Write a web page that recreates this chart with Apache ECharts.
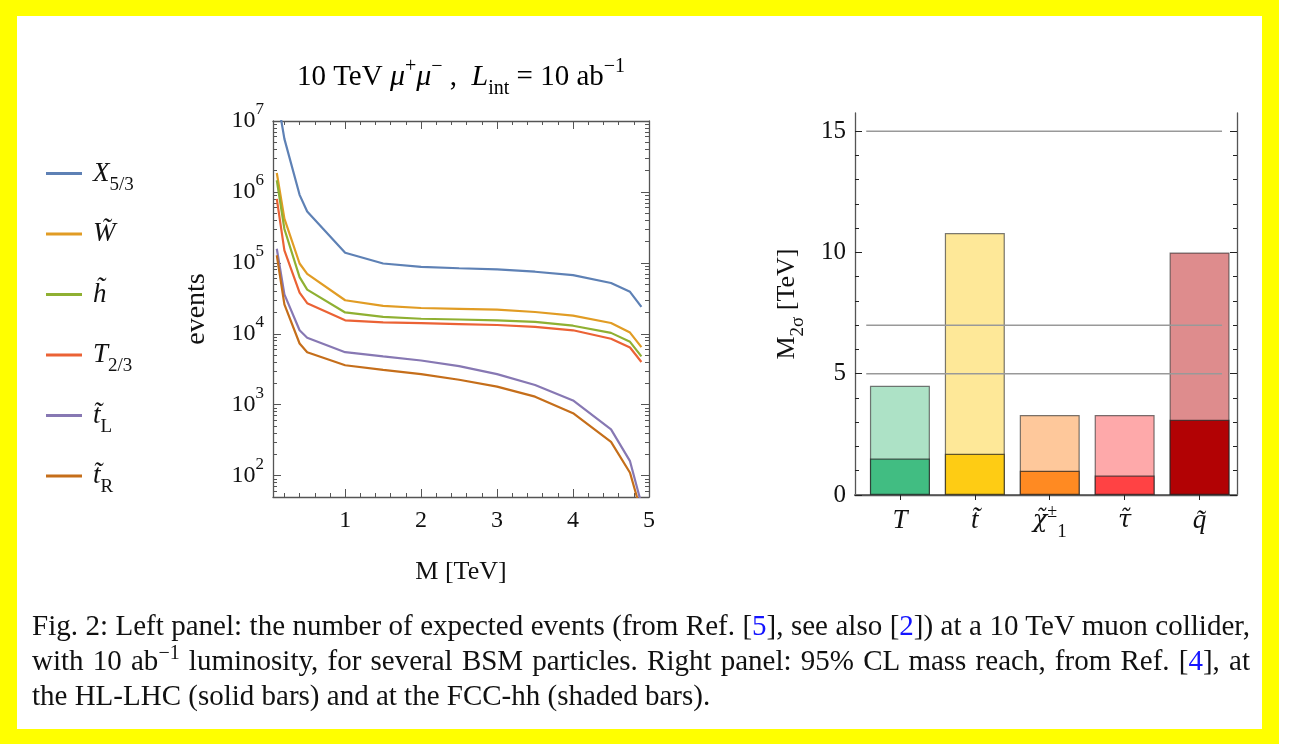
<!DOCTYPE html>
<html>
<head>
<meta charset="utf-8">
<script src="https://cdn.jsdelivr.net/npm/echarts@6/dist/echarts.min.js"></script>
<style>
  html, body { margin: 0; padding: 0; background: #fff; }
  .frame { position: absolute; left: 0; top: 0; width: 1279px; height: 744px; background: #ffff00; }
  .inner { position: absolute; left: 17px; top: 16px; width: 1245px; height: 713px; background: #fff; }
  #main { position: absolute; left: 0; top: 0; width: 1290px; height: 744px; }
  .caption { position: absolute; left: 32px; top: 608px; width: 1218px; font-family: 'Liberation Serif', serif; font-size: 29px; color: #111; }
  .caption div { height: 35px; line-height: 35px; white-space: nowrap; }
  .caption .just { text-align: justify; text-align-last: justify; }
  .caption a { color: #1414ff; text-decoration: none; }
  .caption sup { font-size: 20px; line-height: 0; vertical-align: 11px; }
</style>
</head>
<body>
<div class="frame"></div>
<div class="inner"></div>
<div id="main"></div>
<div class="caption">
  <div class="just">Fig. 2: Left panel: the number of expected events (from Ref. [<a>5</a>], see also [<a>2</a>]) at a 10 TeV muon collider,</div>
  <div class="just">with 10 ab<sup>&minus;1</sup> luminosity, for several BSM particles. Right panel: 95% CL mass reach, from Ref. [<a>4</a>], at</div>
  <div>the HL-LHC (solid bars) and at the FCC-hh (shaded bars).</div>
</div>
<script>
// left panel: expected events vs mass
const massTeV = [0.1, 0.2, 0.4, 0.5, 1, 1.5, 2, 2.5, 3, 3.5, 4, 4.5, 4.75, 4.9];
const eventsX53 = [2.4e7, 5.6e6, 9.1e5, 5.3e5, 1.39e5, 9.8e4, 8.8e4, 8.4e4, 8.1e4, 7.5e4, 6.7e4, 5.2e4, 3.9e4, 2.4e4];
const eventsW = [1.85e6, 4.2e5, 9.8e4, 7.0e4, 2.97e4, 2.47e4, 2.31e4, 2.25e4, 2.19e4, 2.03e4, 1.80e4, 1.42e4, 1.04e4, 6.5e3];
const eventsH = [1.46e6, 3.0e5, 6.3e4, 4.2e4, 2.0e4, 1.73e4, 1.63e4, 1.59e4, 1.55e4, 1.47e4, 1.30e4, 1.03e4, 7.7e3, 4.8e3];
const eventsT23 = [8.0e5, 1.5e5, 3.8e4, 2.7e4, 1.55e4, 1.45e4, 1.41e4, 1.37e4, 1.33e4, 1.25e4, 1.12e4, 8.5e3, 6.4e3, 4.0e3];
const eventsTL = [1.58e5, 3.6e4, 1.12e4, 8.8e3, 5.5e3, 4.8e3, 4.2e3, 3.5e3, 2.7e3, 1.9e3, 1.15e3, 450, 160, 40];
const eventsTR = [1.28e5, 2.6e4, 7.3e3, 5.5e3, 3.6e3, 3.1e3, 2.7e3, 2.25e3, 1.8e3, 1.3e3, 760, 300, 110, 30];
const curveNames = ['X53', 'W', 'h', 'T23', 'tL', 'tR'];
const curveLabels = ['{i|X}{sub|5/3}', '{i|W\u0303}{sub| }', '{i|h\u0303}{sub| }', '{i|T}{sub|2/3}', '{i|t\u0303}{sub|L}', '{i|t\u0303}{sub|R}'];
const curveColors = ['#5E81B5', '#E19C24', '#8FB032', '#EB6235', '#8778B3', '#C56E1A'];
const curveData = [eventsX53, eventsW, eventsH, eventsT23, eventsTL, eventsTR];
const xTicksLeft = [1, 2, 3, 4, 5];
const xMinorLeft = [0.2, 0.4, 0.6, 0.8, 1.2, 1.4, 1.6, 1.8, 2.2, 2.4, 2.6, 2.8, 3.2, 3.4, 3.6, 3.8, 4.2, 4.4, 4.6, 4.8];
const yDecades = [2, 3, 4, 5, 6, 7];

// right panel: 95% CL mass reach
const particles = ['{i|T}', '{i|t\u0303}', '{g|\u03C7\u0303}{sup|\u00B1}{sub|1}', '{g|\u03C4\u0303}', '{i|q\u0303}'];
const particlePos = [1, 2, 3, 4, 5];
const reachHL = [1.5, 1.7, 1.0, 0.8, 3.1];
const reachFCC = [4.5, 10.8, 3.3, 3.3, 10.0];
const colorsHL = ['#41BD82', '#FECC14', '#FF8A22', '#FF4244', '#B20204'];
const colorsFCC = ['#ADE2C6', '#FEE898', '#FEC89B', '#FEA9AA', '#DE8C8D'];
const refLevels = [5, 7, 15];
const refSpan = [0.55, 5.3];
const yTicksRight = [0, 5, 10, 15];
const yMinorRight = [1, 2, 3, 4, 6, 7, 8, 9, 11, 12, 13, 14];

const FONT = 'Liberation Serif';
const AX = '#555';

// minor log ticks 2..9 within each decade (in log10 units)
const yMinorLeft = [];
for (let d = 1; d < 7; d++) {
  for (let k = 2; k <= 9; k++) {
    const lv = Math.log10(k * Math.pow(10, d));
    if (lv >= Math.log10(50)) yMinorLeft.push(lv);
  }
}

const mathRich = {
  r: { fontFamily: FONT, fontSize: 26, color: '#111', lineHeight: 32 },
  i: { fontFamily: FONT, fontSize: 27, fontStyle: 'italic', color: '#111', lineHeight: 32 },
  g: { fontFamily: 'DejaVu Serif', fontSize: 24, fontStyle: 'italic', color: '#111', lineHeight: 32 },
  sub: { fontFamily: FONT, fontSize: 19, color: '#111', lineHeight: 19, verticalAlign: 'bottom', padding: [0, 0, -5, 0] },
  sup: { fontFamily: FONT, fontSize: 18, color: '#111', lineHeight: 18, verticalAlign: 'top', padding: [-2, 0, 0, 0] },
  b: { fontFamily: FONT, fontSize: 24, color: '#111', lineHeight: 26 },
  s: { fontFamily: FONT, fontSize: 17, color: '#111', lineHeight: 17, verticalAlign: 'top', padding: [-7, 0, 0, 0] }
};

const titleRich = {
  r: { fontFamily: FONT, fontSize: 29, color: '#111', lineHeight: 34 },
  i: { fontFamily: FONT, fontSize: 30, fontStyle: 'italic', color: '#111', lineHeight: 34 },
  sub: { fontFamily: FONT, fontSize: 20, color: '#111', lineHeight: 20, verticalAlign: 'bottom', padding: [0, 0, -5, 0] },
  sup: { fontFamily: FONT, fontSize: 20, color: '#111', lineHeight: 20, verticalAlign: 'top', padding: [-3, 0, 0, 0] }
};

function tickAxis(extra) {
  return Object.assign({
    splitLine: { show: false },
    axisLine: { show: false },
    axisLabel: { show: false },
    axisTick: { show: false }
  }, extra);
}

const logMin = Math.log10(50);

const option = {
  animation: false,
  backgroundColor: 'transparent',
  textStyle: { fontFamily: FONT },
  grid: [
    { left: 273, top: 121, width: 376, height: 376, outerBoundsMode: 'none' },
    { left: 855, top: 113, width: 382, height: 382, outerBoundsMode: 'none' }
  ],
  graphic: [{
    type: 'text',
    x: 461,
    y: 77,
    style: {
      text: '{r|10 TeV }{i|\u03BC}{sup|+}{i|\u03BC}{sup|\u2212}{r| ,  }{i|L}{sub|int}{r| = 10 ab}{sup|\u22121}',
      align: 'center',
      verticalAlign: 'middle',
      rich: titleRich
    }
  }],
  legend: {
    orient: 'vertical',
    left: 41,
    top: 155,
    itemGap: 26,
    itemWidth: 36,
    itemHeight: 3,
    icon: 'rect',
    data: curveNames,
    formatter: function (name) { return curveLabels[curveNames.indexOf(name)]; },
    textStyle: { rich: mathRich, padding: [0, 0, 0, 6] }
  },
  xAxis: [
    tickAxis({
      type: 'value', gridIndex: 0, min: 0.05, max: 5, position: 'bottom',
      axisLine: { show: true, lineStyle: { color: AX, width: 1.3 } },
      axisTick: { show: true, inside: true, length: 8, customValues: xTicksLeft, lineStyle: { color: AX } },
      axisLabel: { show: true, customValues: xTicksLeft, margin: 12, fontFamily: FONT, fontSize: 24, color: '#111' },
      name: 'M [TeV]', nameLocation: 'middle', nameGap: 62,
      nameTextStyle: { fontFamily: FONT, fontSize: 26, color: '#111' }
    }),
    tickAxis({
      type: 'value', gridIndex: 0, min: 0.05, max: 5, position: 'bottom',
      axisTick: { show: true, inside: true, length: 4, customValues: xMinorLeft, lineStyle: { color: AX } }
    }),
    tickAxis({
      type: 'value', gridIndex: 0, min: 0.05, max: 5, position: 'top',
      axisLine: { show: true, lineStyle: { color: AX, width: 1.3 } },
      axisTick: { show: true, inside: true, length: 8, customValues: xTicksLeft, lineStyle: { color: AX } }
    }),
    tickAxis({
      type: 'value', gridIndex: 0, min: 0.05, max: 5, position: 'top',
      axisTick: { show: true, inside: true, length: 4, customValues: xMinorLeft, lineStyle: { color: AX } }
    }),
    tickAxis({
      type: 'value', gridIndex: 1, min: 0.4, max: 5.5, position: 'bottom',
      axisLine: { show: true, lineStyle: { color: '#777', width: 2 } },
      axisTick: { show: true, inside: true, length: 5, customValues: particlePos, lineStyle: { color: '#222' } },
      axisLabel: {
        show: true, customValues: particlePos, margin: 10,
        formatter: function (v) { return particles[Math.round(v) - 1]; },
        rich: mathRich
      }
    }),
    tickAxis({
      type: 'value', gridIndex: 1, min: 0.4, max: 5.5, position: 'top',
      axisLine: { show: true, lineStyle: { color: AX, width: 1.3 } },
      axisTick: { show: true, inside: true, length: 5, customValues: particlePos, lineStyle: { color: '#222' } }
    })
  ],
  yAxis: [
    tickAxis({
      type: 'log', gridIndex: 0, min: 50, max: 1e7, logBase: 10, position: 'left',
      axisLine: { show: true, lineStyle: { color: AX, width: 1.3 } }
    }),
    tickAxis({
      type: 'value', gridIndex: 0, min: logMin, max: 7, position: 'left',
      axisTick: { show: true, inside: true, length: 8, customValues: yDecades, lineStyle: { color: AX } },
      axisLabel: {
        show: true, customValues: yDecades, margin: 9,
        formatter: function (v) { return '{b|10}{s|' + Math.round(v) + '}'; },
        rich: mathRich
      },
      name: 'events', nameLocation: 'middle', nameGap: 62, nameRotate: 90,
      nameTextStyle: { fontFamily: FONT, fontSize: 28, color: '#111' }
    }),
    tickAxis({
      type: 'value', gridIndex: 0, min: logMin, max: 7, position: 'left',
      axisTick: { show: true, inside: true, length: 4, customValues: yMinorLeft, lineStyle: { color: AX } }
    }),
    tickAxis({
      type: 'value', gridIndex: 0, min: logMin, max: 7, position: 'right',
      axisLine: { show: true, lineStyle: { color: AX, width: 1.3 } },
      axisTick: { show: true, inside: true, length: 8, customValues: yDecades, lineStyle: { color: AX } }
    }),
    tickAxis({
      type: 'value', gridIndex: 0, min: logMin, max: 7, position: 'right',
      axisTick: { show: true, inside: true, length: 4, customValues: yMinorLeft, lineStyle: { color: AX } }
    }),
    tickAxis({
      type: 'value', gridIndex: 1, min: 0, max: 15.75, position: 'left',
      axisLine: { show: true, lineStyle: { color: AX, width: 1.3 } },
      axisTick: { show: true, inside: true, length: 7, customValues: yTicksRight, lineStyle: { color: '#222' } },
      axisLabel: { show: true, customValues: yTicksRight, margin: 9, fontFamily: FONT, fontSize: 25, color: '#111' },
      name: '{r|M}{sub|2\u03C3}{r| [TeV]}', nameLocation: 'middle', nameGap: 52, nameRotate: 90,
      nameTextStyle: { rich: mathRich }
    }),
    tickAxis({
      type: 'value', gridIndex: 1, min: 0, max: 15.75, position: 'left',
      axisTick: { show: true, inside: true, length: 4, customValues: yMinorRight, lineStyle: { color: '#222' } }
    }),
    tickAxis({
      type: 'value', gridIndex: 1, min: 0, max: 15.75, position: 'right',
      axisLine: { show: true, lineStyle: { color: AX, width: 1.3 } },
      axisTick: { show: true, inside: true, length: 7, customValues: yTicksRight, lineStyle: { color: '#222' } }
    }),
    tickAxis({
      type: 'value', gridIndex: 1, min: 0, max: 15.75, position: 'right',
      axisTick: { show: true, inside: true, length: 4, customValues: yMinorRight, lineStyle: { color: '#222' } }
    })
  ],
  series: []
};

curveNames.forEach(function (name, i) {
  option.series.push({
    name: name,
    type: 'line',
    xAxisIndex: 0,
    yAxisIndex: 0,
    showSymbol: false,
    symbol: 'none',
    clip: true,
    color: curveColors[i],
    lineStyle: { width: 2.2, color: curveColors[i] },
    data: massTeV.map(function (m, j) { return [m, curveData[i][j]]; })
  });
});

option.series.push({
  name: 'FCC-hh',
  type: 'bar',
  xAxisIndex: 4,
  yAxisIndex: 5,
  barWidth: 60,
  barGap: '-100%',
  data: particlePos.map(function (p, j) {
    return { value: [p, reachFCC[j]], itemStyle: { color: colorsFCC[j], borderColor: 'rgba(50,50,50,0.65)', borderWidth: 1.2 } };
  })
});
option.series.push({
  name: 'HL-LHC',
  type: 'bar',
  xAxisIndex: 4,
  yAxisIndex: 5,
  barWidth: 60,
  barGap: '-100%',
  data: particlePos.map(function (p, j) {
    return { value: [p, reachHL[j]], itemStyle: { color: colorsHL[j], borderColor: 'rgba(30,30,30,0.7)', borderWidth: 1.2 } };
  })
});
refLevels.forEach(function (lv) {
  option.series.push({
    type: 'line',
    xAxisIndex: 4,
    yAxisIndex: 5,
    symbol: 'none',
    z: 5,
    lineStyle: { color: '#999', width: 1.6 },
    data: [[refSpan[0], lv], [refSpan[1], lv]]
  });
});

const chart = echarts.init(document.getElementById('main'), null, { renderer: 'canvas' });
chart.setOption(option);
</script>
</body>
</html>
